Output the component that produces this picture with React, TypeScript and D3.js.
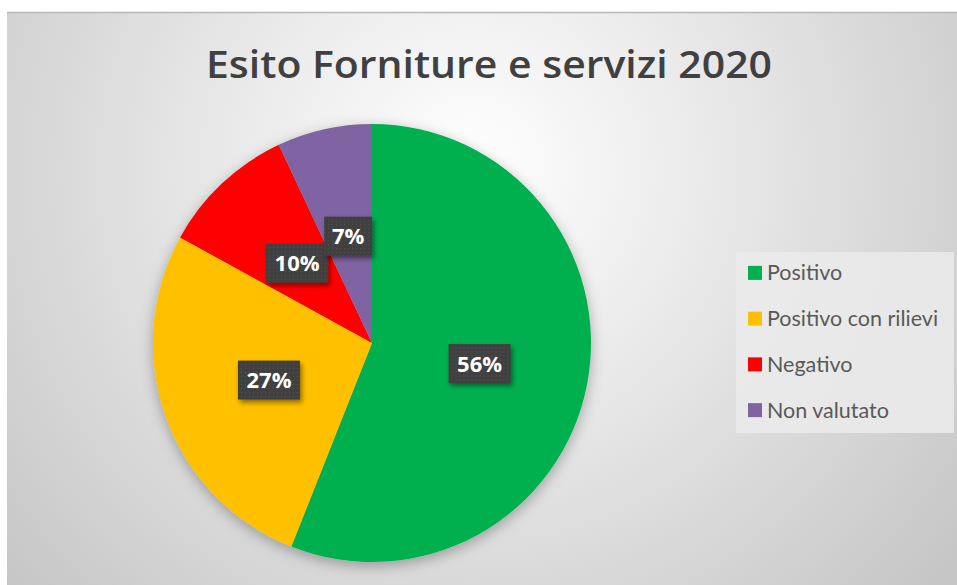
import React from "react";
import * as d3 from "d3";

const title = "Esito Forniture e servizi 2020";
const categories = ["Positivo", "Positivo con rilievi", "Negativo", "Non valutato"];
const values = [56, 27, 10, 7];
const colors = ["#00B050", "#FFC000", "#FF0000", "#8064A2"];

const W = 957;
const H = 585;

export default function App() {
  const cx = 372;
  const cy = 343;
  const r = 219;
  const total = d3.sum(values);
  const pie = d3.pie<number>().sort(null).value((d) => d);
  const arcs = pie(values);
  const arcGen = d3.arc<d3.PieArcDatum<number>>().innerRadius(0).outerRadius(r);
  const legendY = d3.scaleBand<string>().domain(categories).range([250, 433]).paddingInner(0).paddingOuter(0);

  return (
    <svg width={W} height={H} style={{ position: "absolute", left: 0, top: 0, display: "block" }}>
      <defs>
        <radialGradient id="bg" gradientUnits="userSpaceOnUse" cx={470} cy={170} r={620}>
          <stop offset="0" stopColor="#ffffff" />
          <stop offset="0.45" stopColor="#e6e6e6" />
          <stop offset="1" stopColor="#c6c6c6" />
        </radialGradient>
        <filter id="pieShadow" x="-20%" y="-20%" width="140%" height="140%">
          <feDropShadow dx="0" dy="4" stdDeviation="7" floodColor="#000" floodOpacity="0.3" />
        </filter>
        <filter id="boxShadow" x="-30%" y="-30%" width="170%" height="170%">
          <feDropShadow dx="2" dy="3" stdDeviation="2.5" floodColor="#000" floodOpacity="0.45" />
        </filter>
        <pattern id="dots" width="4" height="4" patternUnits="userSpaceOnUse">
          <rect width="4" height="4" fill="#404040" />
          <rect width="1" height="1" fill="#555" />
        </pattern>
      </defs>
      <rect x={0} y={0} width={W} height={H} fill="#ffffff" />
      <rect x={7} y={12} width={W - 7} height={H - 12} fill="url(#bg)" />
      <line x1={7} x2={W} y1={12.5} y2={12.5} stroke="#b8b8b8" strokeWidth={1.5} />
      <text
        x={489}
        y={78}
        textAnchor="middle"
        fontFamily="'Open Sans', sans-serif"
        fontWeight={600}
        fontSize={37}
        fill="#404040"
        textLength={566}
        lengthAdjust="spacingAndGlyphs"
      >
        {title}
      </text>
      <g transform={`translate(${cx},${cy})`}>
        <g filter="url(#pieShadow)">
          {arcs.map((a, i) => (
            <path key={i} d={arcGen(a) || ""} fill={colors[i]} />
          ))}
        </g>
        {arcs.map((a, i) => {
          const [lx, ly] = arcGen.centroid(a);
          const label = `${Math.round((values[i] / total) * 100)}%`;
          const bw = 20 + 14 * label.length;
          const bh = 39;
          return (
            <g key={`l${i}`} transform={`translate(${lx},${ly})`}>
              <rect x={-bw / 2} y={-bh / 2} width={bw} height={bh} fill="url(#dots)" filter="url(#boxShadow)" />
              <text
                x={0}
                y={8}
                textAnchor="middle"
                fontFamily="'Open Sans', sans-serif"
                fontWeight={700}
                fontSize={22}
                fill="#ffffff"
              >
                {label}
              </text>
            </g>
          );
        })}
      </g>
      <rect x={736} y={252} width={218} height={181} fill="#ebebeb" opacity={0.85} />
      {categories.map((c, i) => {
        const y = (legendY(c) || 0) + legendY.bandwidth() / 2;
        return (
          <g key={c}>
            <rect x={748} y={y - 7} width={14} height={14} fill={colors[i]} />
            <text
              x={767}
              y={y + 7.5}
              fontFamily="Lato, 'Open Sans', sans-serif"
              fontSize={21.5}
              fill="#595959"
            >
              {c}
            </text>
          </g>
        );
      })}
    </svg>
  );
}
